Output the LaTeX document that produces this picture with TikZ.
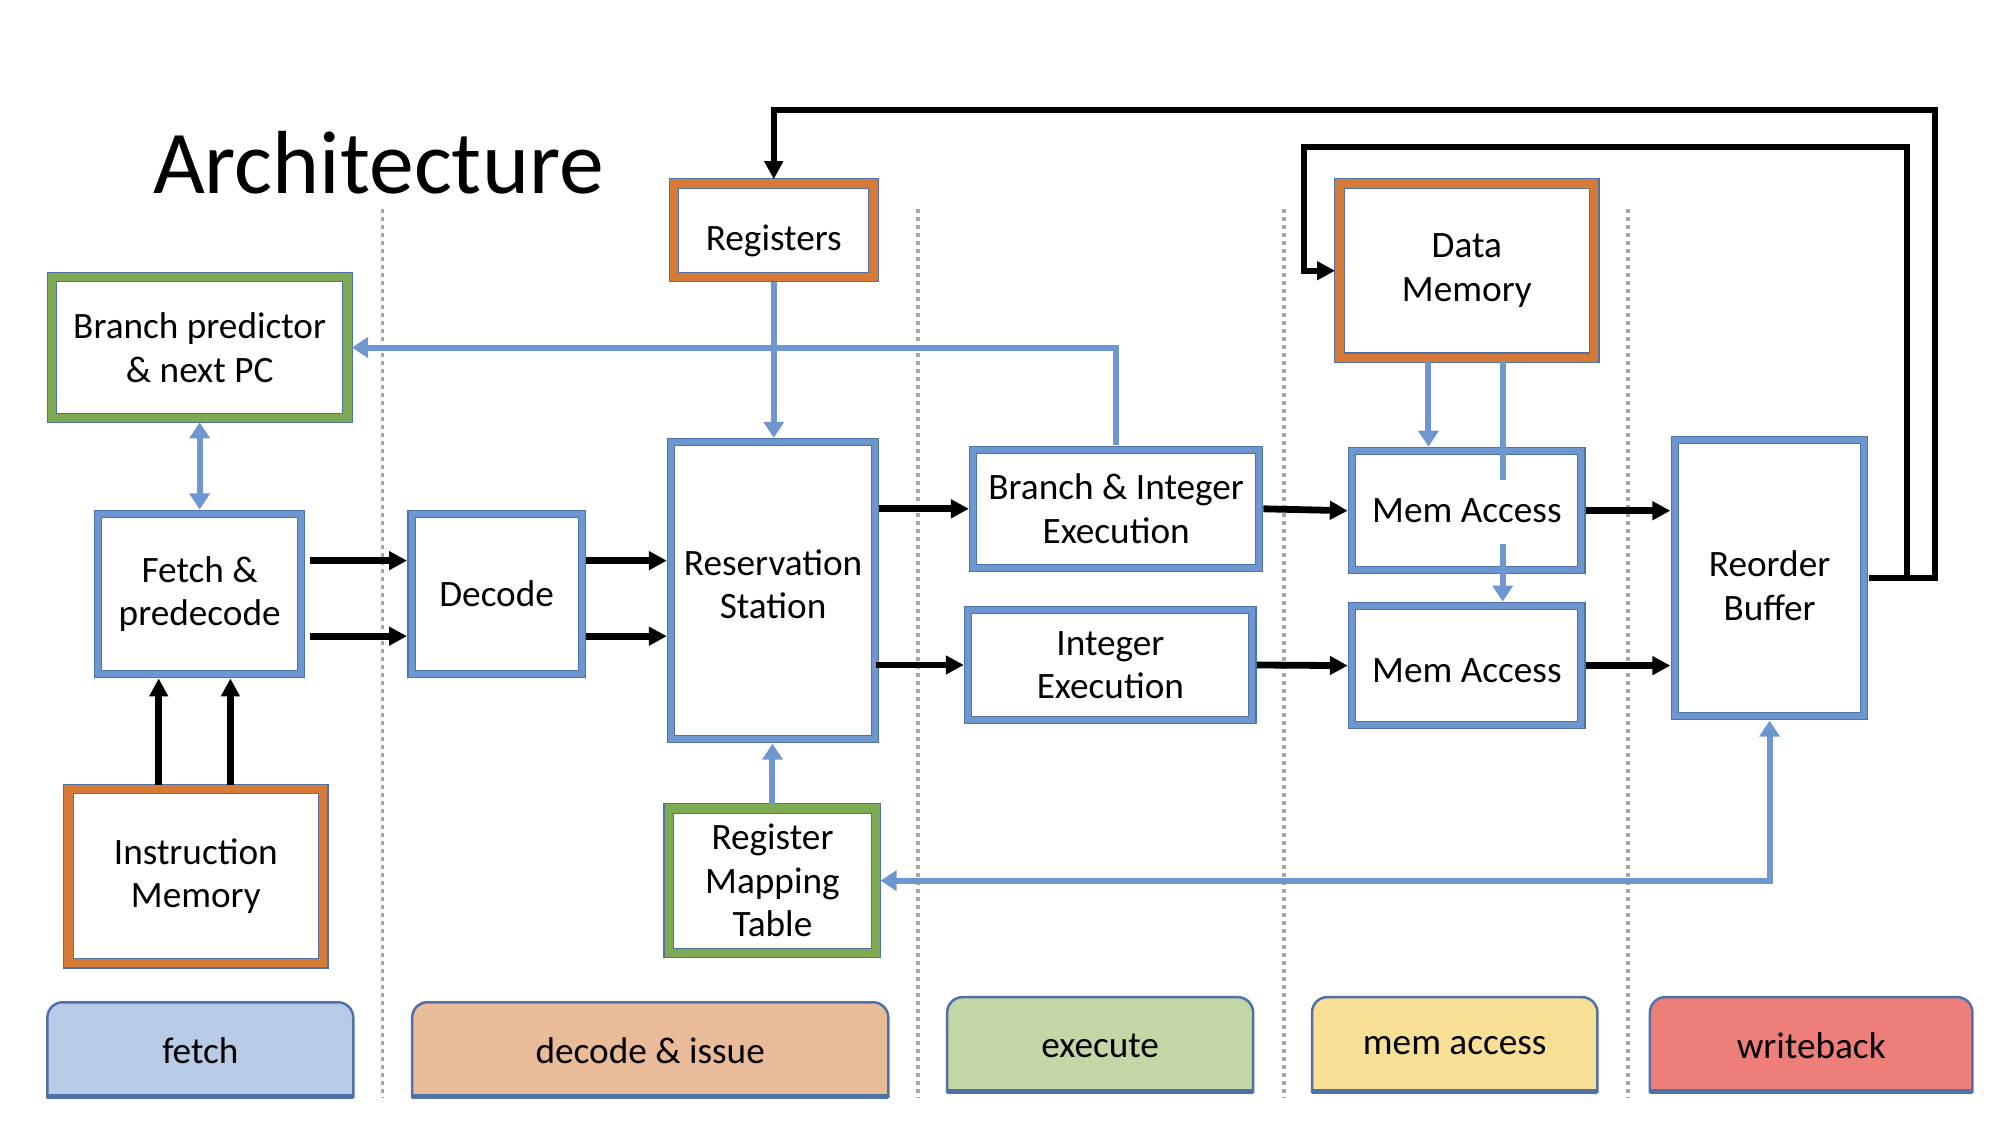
\documentclass[tikz,border=0pt]{standalone}
\usepackage{fontspec}
\setmainfont{Carlito}
\usepackage{xcolor}
\usepackage{tikz}
\usetikzlibrary{arrows.meta}
\usetikzlibrary{calc}

\definecolor{cBlue}{HTML}{6F97CF}
\definecolor{cEdge}{HTML}{4F71A8}
\definecolor{cOrange}{HTML}{D67B37}
\definecolor{cGreen}{HTML}{7EAA52}
\definecolor{cFetch}{HTML}{B7CBE7}
\definecolor{cDecode}{HTML}{E9BB99}
\definecolor{cExec}{HTML}{C3D6A6}
\definecolor{cMem}{HTML}{F7DF96}
\definecolor{cWrite}{HTML}{EE7E7A}
\definecolor{cSep}{HTML}{A6A6A6}

\newcommand{\dpx}{0.128mm}
\newcommand{\boxfont}{\fontsize{10.6}{12.4}\selectfont}
\newcommand{\titlefont}{\fontsize{25.5}{30}\selectfont}

\tikzset{
    box/.style={draw=cEdge, line width=0.3pt, double=#1, double distance=0.6mm,
        fill=white, inner sep=0pt, outer sep=3.5*\dpx, align=center, font=\boxfont},
    mbox/.style={box=#1, double distance=0.85mm},
    boxtext/.style={font=\boxfont, align=center},
    blk/.style={line width=0.68mm, -{Triangle[length=1.8mm, width=1.8mm]}},
    fb/.style={line width=0.6mm, -{Triangle[length=1.8mm, width=1.8mm]}},
    bl/.style={draw=cBlue, line width=0.6mm, -{Triangle[length=1.6mm, width=2mm]}},
    bbl/.style={bl, {Triangle[length=1.6mm, width=2mm]}-{Triangle[length=1.6mm, width=2mm]}},
    sep/.style={cSep, line width=0.35mm, dash pattern=on 0.45mm off 0.35mm},
    stage/.style={draw=cEdge, line width=0.25mm},
    stagetxt/.style={inner sep=0pt, font=\boxfont}
}

\begin{document}
\begin{tikzpicture}[x=0.128mm, y=-0.128mm]
        \useasboundingbox (0, 0) rectangle (1562.5, 879);

        % title
        \node[anchor=base west, inner sep=0pt, font=\titlefont] (title) at (119, 151) {Architecture};

        % stage separators
        \draw[sep] (299, 163) -- (299, 857);
        \draw[sep] (717, 163) -- (717, 857);
        \draw[sep] (1003, 163) -- (1003, 857);
        \draw[sep] (1272, 163) -- (1272, 857);

        % blocks
        \node[mbox=cGreen, minimum width=231*\dpx, minimum height=110*\dpx] (bp) at (156, 271.5) {Branch predictor\\\& next PC};
        \node[box=cBlue, minimum width=159*\dpx, minimum height=125*\dpx] (fetch) at (156, 464) {Fetch \&\\predecode};
        \node[mbox=cOrange, minimum width=199*\dpx, minimum height=136*\dpx] (im) at (153, 684.5) {Instruction\\Memory};
        \node[box=cBlue, minimum width=133*\dpx, minimum height=125*\dpx] (decode) at (388, 464) {Decode};
        \node[mbox=cOrange, minimum width=156*\dpx, minimum height=73*\dpx,
            label={[boxtext, yshift=-8*\dpx]center:Registers}] (reg) at (604.5, 180) {};
        \node[box=cBlue, minimum width=159*\dpx, minimum height=232*\dpx,
            label={[boxtext, yshift=5*\dpx]center:Reservation\\Station}] (rs) at (604, 461.5) {};
        \node[mbox=cGreen, minimum width=162*\dpx, minimum height=113*\dpx] (rmt) at (603.5, 688) {Register\\Mapping\\Table};
        \node[box=cBlue, minimum width=223*\dpx, minimum height=92*\dpx] (bie) at (872, 397.5) {Branch \& Integer\\Execution};
        \node[box=cBlue, minimum width=222*\dpx, minimum height=86*\dpx] (ie) at (867.5, 519.5) {Integer\\Execution};
        \node[mbox=cOrange, minimum width=199*\dpx, minimum height=136*\dpx] (dm) at (1146, 211.5) {Data\\Memory};
        \node[box=cBlue, minimum width=179*\dpx, minimum height=93*\dpx] (ma1) at (1146, 399) {Mem Access};
        \node[box=cBlue, minimum width=179*\dpx, minimum height=93*\dpx,
            label={[boxtext, yshift=-4*\dpx]center:Mem Access}] (ma2) at (1146, 520) {};
        \node[box=cBlue, minimum width=148*\dpx, minimum height=216*\dpx,
            label={[boxtext, yshift=-6*\dpx]center:Reorder\\Buffer}] (rob) at (1382.5, 451.5) {};

        % black data paths
        \draw[blk] ([xshift=-29*\dpx]im.north) -- ([xshift=-29*\dpx]im.north |- fetch.south);
        \draw[blk] ([xshift=27*\dpx]im.north) -- ([xshift=27*\dpx]im.north |- fetch.south);
        \draw[blk] ([xshift=3*\dpx, yshift=26*\dpx]fetch.east) -- ([yshift=26*\dpx]fetch.east -| decode.west);
        \draw[blk] ([xshift=3*\dpx, yshift=-33*\dpx]fetch.east) -- ([yshift=-33*\dpx]fetch.east -| decode.west);
        \draw[blk] ([yshift=26*\dpx]decode.east) -- ([yshift=26*\dpx]decode.east -| rs.west);
        \draw[blk] ([yshift=-33*\dpx]decode.east) -- ([yshift=-33*\dpx]decode.east -| rs.west);
        \draw[blk] (rs.east |- bie.west) -- (bie.west);
        \draw[blk] ([xshift=-3*\dpx]rs.east |- ie.west) -- (ie.west);
        \draw[blk] (bie.east) -- (ma1.west);
        \draw[blk] (ie.east) -- (ma2.west);
        \draw[blk] (ma1.east) -- (ma1.east -| rob.west);
        \draw[blk] (ma2.east) -- (ma2.east -| rob.west);

        % writeback feedback
        \draw[fb] (rob.east) -- ++(52, 0) |- ([yshift=54*\dpx]reg.north) -- (reg.north);
        \draw[fb] (rob.east) -- ++(30, 0) |- ([xshift=-24*\dpx, yshift=96.5*\dpx]dm.west) |- (dm.west);

        % blue control paths
        \draw[bbl] (bp.south) -- (fetch.north);
        \draw[bl] (reg.south) -- (reg.south |- rs.north);
        \draw[bl] (rmt.north) -- (rmt.north |- rs.south);
        \draw[bl] (bie.north) |- (bp.east);
        \draw[bl] ([xshift=-30*\dpx]dm.south) -- ([xshift=-30*\dpx]dm.south |- ma1.north);
        \coordinate (dmgapa) at ([xshift=28*\dpx, yshift=24*\dpx]dm.south |- ma1.center);
        \coordinate (dmgapb) at ([xshift=28*\dpx, yshift=-26*\dpx]dm.south |- ma1.center);
        \draw[bl, -] ([xshift=28*\dpx]dm.south) -- (dmgapa);
        \draw[bl] (dmgapb) -- (dmgapb |- ma2.north);
        \draw[bbl] (rob.south) |- (rmt.east);

        % stage labels
        \draw[stage, fill=cFetch] (37, 857) [rounded corners=12*\dpx] -- (37, 783) -- (276, 783) [sharp corners] -- (276, 857) -- cycle;
        \draw[cEdge, line width=0.5mm] (37, 857) -- (276, 857);
        \node[stagetxt] (sfetch) at (156.5, 821) {fetch};
        \draw[stage, fill=cDecode] (322, 857) [rounded corners=12*\dpx] -- (322, 783) -- (694, 783) [sharp corners] -- (694, 857) -- cycle;
        \draw[cEdge, line width=0.5mm] (322, 857) -- (694, 857);
        \node[stagetxt] (sdecode) at (508, 821) {decode \& issue};
        \draw[stage, fill=cExec] (740, 853) [rounded corners=12*\dpx] -- (740, 779) -- (979, 779) [sharp corners] -- (979, 853) -- cycle;
        \draw[cEdge, line width=0.5mm] (740, 853) -- (979, 853);
        \node[stagetxt] (sexec) at (859.5, 817) {execute};
        \draw[stage, fill=cMem] (1025, 853) [rounded corners=12*\dpx] -- (1025, 779) -- (1248, 779) [sharp corners] -- (1248, 853) -- cycle;
        \draw[cEdge, line width=0.5mm] (1025, 853) -- (1248, 853);
        \node[stagetxt] (smem) at (1136.5, 817) {mem access};
        \draw[stage, fill=cWrite] (1289, 853) [rounded corners=12*\dpx] -- (1289, 779) -- (1541, 779) [sharp corners] -- (1541, 853) -- cycle;
        \draw[cEdge, line width=0.5mm] (1289, 853) -- (1541, 853);
        \node[stagetxt] (swrite) at (1415, 817) {writeback};
    \end{tikzpicture}
\end{document}
